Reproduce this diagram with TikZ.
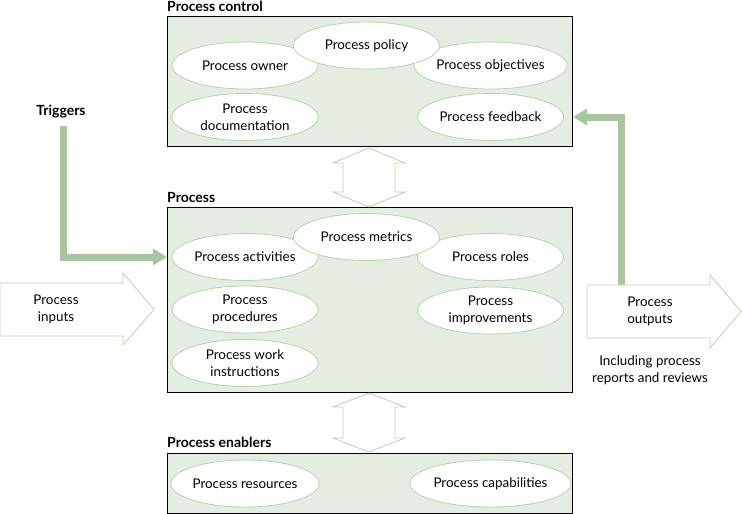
\documentclass[tikz,border=0pt]{standalone}
\usepackage{fontspec}
\setmainfont{Lato}
\usetikzlibrary{arrows.meta,shapes.geometric,calc}
\definecolor{boxfill}{HTML}{E5ECE2}
\definecolor{lightgr}{HTML}{B7D2AE}
\definecolor{thickgr}{HTML}{A9C5A0}
\tikzset{
  panel/.style={draw=black,line width=1pt,fill=boxfill,minimum width=405pt,anchor=north west,inner sep=0pt},
  oval/.style={ellipse,draw=lightgr,line width=0.8pt,fill=white,minimum width=146pt,minimum height=47pt,inner sep=0pt,align=center,font=\fontsize{13.4}{17}\selectfont},
  title/.style={anchor=base west,inner sep=0pt,font=\bfseries\fontsize{14}{16}\selectfont},
  plain/.style={inner sep=0pt,align=center,font=\fontsize{13.4}{17}\selectfont},
  fatarrow/.style={draw=lightgr,line width=0.8pt,fill=white,line join=miter},
  thickarrow/.style={draw=thickgr,line width=7pt,-{Triangle[width=16pt,length=14pt]},color=thickgr}
}
\begin{document}
\begin{tikzpicture}[x=1pt,y=-1pt]
\useasboundingbox (0,0) rectangle (742,514);
% panels
\node[panel,minimum height=130pt] (ctrl) at (167,16) {};
\node[panel,minimum height=185pt] (proc) at (167,207) {};
\node[panel,minimum height=60pt] (enab) at (167,453) {};
\node[title] (tctrl) at (167,11) {Process control};
\node[title] (tproc) at (167,202) {Process};
\node[title] (tenab) at (167,447) {Process enablers};
% control ellipses
\node[oval] (owner) at (245,65.5) {Process owner};
\node[oval] (doc) at (245,117) {Process\\documentation};
\node[oval] (obj) at (490.5,65.5) {Process objectives};
\node[oval] (fb) at (490.5,117) {Process feedback};
\node[oval] (policy) at (366.5,45.5) {Process policy};
% process ellipses
\node[oval] (act) at (245,257) {Process activities};
\node[oval] (procd) at (245,309.5) {Process\\procedures};
\node[oval] (work) at (245,363) {Process work\\instructions};
\node[oval] (roles) at (490.5,257) {Process roles};
\node[oval] (impr) at (490.5,310.5) {Process\\improvements};
\node[oval] (metr) at (366.5,237) {Process metrics};
% enablers ellipses
\node[oval] (res) at (245,483.5) {Process resources};
\node[oval] (cap) at (490.5,483.5) {Process capabilities};
% double arrows
\coordinate (u1) at (369,148);
\coordinate (u2) at (369,207);
\draw[fatarrow] (u1) -- ++(36,15) -- ++(-10,0) -- ++(0,29) -- ++(10,0) -- (u2) -- ++(-36,-15) -- ++(10,0) -- ++(0,-29) -- ++(-10,0) -- cycle;
\coordinate (d1) at (369,393);
\coordinate (d2) at (369,452);
\draw[fatarrow] (d1) -- ++(36,14) -- ++(-10,0) -- ++(0,31) -- ++(10,0) -- (d2) -- ++(-36,-14) -- ++(10,0) -- ++(0,-31) -- ++(-10,0) -- cycle;
% inputs
\draw[fatarrow] (0,283) -- (123,283) -- (123,273) -- (154,309.5) -- (123,345) -- (123,336) -- (0,336) -- cycle;
\node[plain] (inp) at (56,309.5) {Process\\inputs};
% triggers
\node[title,anchor=base] (trig) at (61,115) {Triggers};
\draw[thickarrow] ($(trig.south)+(2,8)$) |- (proc.west |- act.center) ;
% feedback arrow
\coordinate (outtop) at (621.5,286);
\draw[thickarrow] (outtop) |- (ctrl.east |- fb.center);
% outputs
\draw[fatarrow] (587,285) -- (710,285) -- (710,275) -- (741,311.5) -- (710,348) -- (710,338) -- (587,338) -- cycle;
\node[plain] (outp) at (650,311.5) {Process\\outputs};
\node[plain] (incl) at (650,370) {Including process\\reports and reviews};
\end{tikzpicture}
\end{document}
